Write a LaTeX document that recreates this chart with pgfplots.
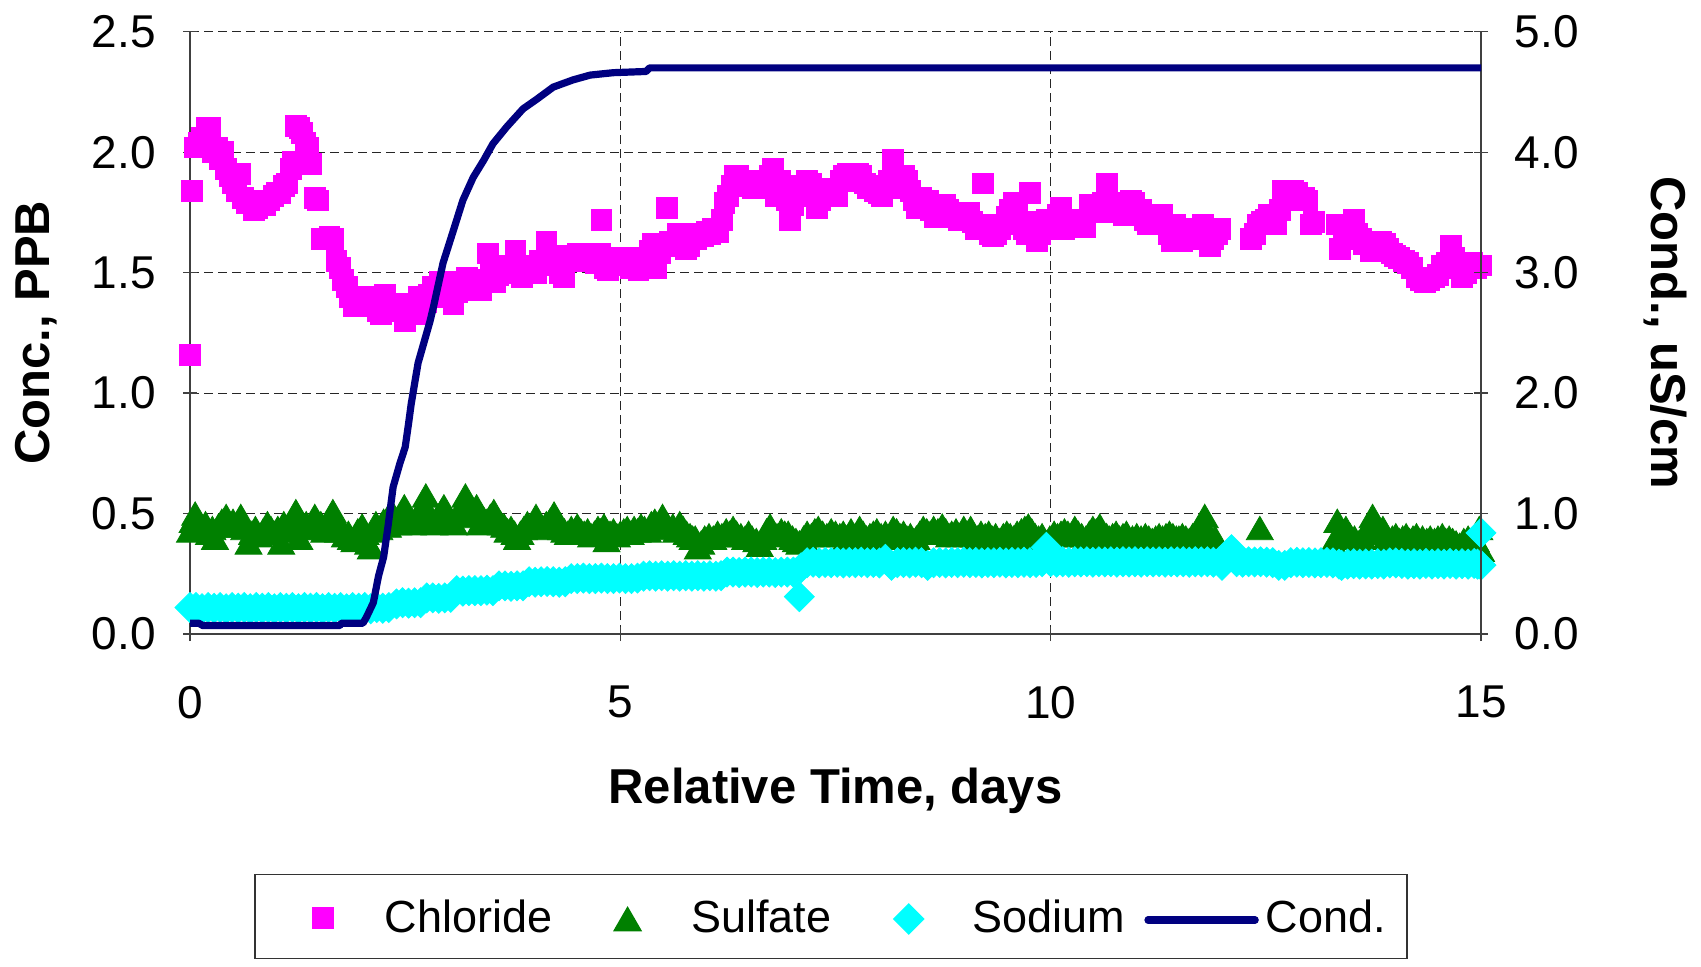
\documentclass[border=0pt]{standalone}
\usepackage{fontspec}
\setmainfont{Liberation Sans}
\usepackage{pgfplots}
\pgfplotsset{compat=1.18}
\definecolor{chl}{RGB}{255,0,255}
\definecolor{sul}{RGB}{0,128,0}
\definecolor{sod}{RGB}{0,255,255}
\definecolor{cnd}{RGB}{0,0,128}
\pgfplotsset{
  legchl/.style={legend image code/.code={\path (0pt,-19.05pt) (64.4pt,19.15pt);
    \draw[mark repeat=2,mark phase=2,##1] plot coordinates {(23.5pt,-0.7pt)(33.5pt,-0.7pt)(43.5pt,-0.7pt)};}},
  legmid/.style={legend image code/.code={\path (0pt,-19.05pt) (68.5pt,19.15pt);
    \draw[mark repeat=2,mark phase=2,##1] plot coordinates {(27pt,-1.2pt)(37pt,-1.2pt)(47pt,-1.2pt)};}},
  legline/.style={legend image code/.code={\path (0pt,-19.05pt) (66.7pt,19.15pt);
    \draw[##1] (9.5pt,-1.7pt) -- (63.1pt,-1.7pt);}},
}
\begin{document}
\begin{tikzpicture}
\path[use as bounding box] (0,0) rectangle (850.5pt,-483pt);
\pgfplotsset{
  base/.style={
    scale only axis, width=645.5pt, height=301.15pt,
    at={(95pt,-317pt)}, anchor=south west,
    xmin=0, xmax=15, clip=false,
    tick align=outside, major tick length=7pt,
    axis line style={-, black!75, line width=0.6pt},
    tick style={black!75, line width=0.6pt},
    ticklabel style={font=\fontsize{23}{27}\selectfont},
    /pgf/number format/assume math mode=true,
  },
}
\begin{axis}[base,
  axis x line=bottom, axis y line=left,
  x axis line style={-}, y axis line style={-},
  ymin=0, ymax=2.5,
  xtick={0,5,10,15},
  ytick={0,0.5,1,1.5,2,2.5},
  yticklabel style={xshift=-10pt, /pgf/number format/.cd, fixed, fixed zerofill, precision=1},
  xticklabel style={yshift=-19pt},
  grid=major,
  major grid style={black!85, line width=0.55pt, dash pattern=on 4.5pt off 2.5pt},
  xlabel={Relative Time, days},
  ylabel={Conc., PPB},
  every axis x label/.style={at={(axis description cs:0.5,-0.2806)}, anchor=base, font=\bfseries\fontsize{24.5}{29}\selectfont},
  every axis y label/.style={at={(axis description cs:-0.1193,0.5)}, anchor=center, rotate=90, font=\bfseries\fontsize{24.5}{29}\selectfont},
  legend columns=4,
  legend style={at={(0.4965,-0.469)}, anchor=center, inner sep=0pt, inner xsep=0pt, inner ysep=0pt,
    draw=black!80, line width=0.6pt,
    font=\fontsize{22.5}{27}\selectfont, column sep=0pt, row sep=0pt,
    nodes={inner sep=0pt, text depth=0pt}, cells={anchor=center}},
]
\addplot[only marks, mark=square*, mark size=5.2pt, color=chl, legchl]
coordinates {
(0.00,1.16)(0.02,1.84)(0.05,2.02)(0.10,2.04)(0.14,2.06)(0.19,2.10)(0.23,2.10)(0.27,2.00)(0.31,2.02)(0.35,1.97)
(0.38,2.00)(0.42,1.93)(0.46,1.90)(0.50,1.87)(0.54,1.84)(0.58,1.91)(0.61,1.81)(0.66,1.79)(0.70,1.80)(0.74,1.76)
(0.78,1.77)(0.82,1.80)(0.87,1.78)(0.92,1.80)(0.97,1.82)(1.01,1.83)(1.05,1.83)(1.09,1.86)(1.13,1.87)(1.17,1.93)
(1.20,1.96)(1.23,2.11)(1.27,2.10)(1.30,2.08)(1.34,2.04)(1.37,2.02)(1.41,1.95)(1.45,1.81)(1.49,1.80)(1.53,1.64)
(1.58,1.64)(1.62,1.65)(1.66,1.64)(1.70,1.55)(1.74,1.52)(1.78,1.47)(1.82,1.44)(1.86,1.40)(1.90,1.36)(1.94,1.37)
(1.98,1.36)(2.02,1.38)(2.06,1.40)(2.10,1.38)(2.14,1.37)(2.18,1.34)(2.22,1.33)(2.26,1.41)(2.30,1.34)(2.34,1.36)
(2.38,1.35)(2.42,1.36)(2.46,1.37)(2.50,1.30)(2.54,1.33)(2.58,1.35)(2.62,1.37)(2.66,1.40)(2.70,1.33)(2.74,1.38)
(2.78,1.41)(2.82,1.44)(2.86,1.42)(2.90,1.46)(2.94,1.44)(2.98,1.40)(3.02,1.46)(3.06,1.37)(3.10,1.42)(3.14,1.45)
(3.18,1.43)(3.22,1.48)(3.26,1.47)(3.30,1.44)(3.34,1.46)(3.38,1.43)(3.42,1.47)(3.46,1.58)(3.50,1.50)(3.54,1.46)
(3.58,1.49)(3.62,1.52)(3.66,1.50)(3.70,1.53)(3.74,1.52)(3.78,1.59)(3.82,1.51)(3.86,1.48)(3.90,1.52)(3.94,1.50)
(3.98,1.53)(4.02,1.50)(4.06,1.55)(4.10,1.54)(4.14,1.63)(4.18,1.57)(4.22,1.53)(4.26,1.55)(4.30,1.50)(4.34,1.48)
(4.38,1.55)(4.42,1.57)(4.46,1.56)(4.50,1.58)(4.55,1.55)(4.60,1.57)(4.64,1.58)(4.68,1.56)(4.72,1.54)(4.76,1.58)
(4.78,1.72)(4.82,1.52)(4.86,1.51)(4.90,1.54)(4.95,1.56)(5.00,1.55)(5.04,1.53)(5.08,1.56)(5.12,1.52)(5.16,1.55)
(5.21,1.51)(5.25,1.53)(5.30,1.56)(5.34,1.59)(5.38,1.62)(5.42,1.52)(5.46,1.58)(5.50,1.61)(5.54,1.77)(5.58,1.63)
(5.63,1.61)(5.67,1.66)(5.72,1.65)(5.76,1.60)(5.80,1.61)(5.84,1.66)(5.88,1.64)(5.92,1.66)(5.96,1.65)(6.00,1.67)
(6.04,1.66)(6.08,1.68)(6.13,1.67)(6.18,1.72)(6.21,1.79)(6.25,1.82)(6.29,1.86)(6.33,1.90)(6.37,1.90)(6.41,1.87)
(6.45,1.86)(6.50,1.88)(6.54,1.85)(6.58,1.86)(6.62,1.87)(6.66,1.88)(6.70,1.85)(6.74,1.90)(6.77,1.93)(6.81,1.82)
(6.85,1.88)(6.89,1.84)(6.93,1.80)(6.97,1.72)(7.01,1.78)(7.05,1.84)(7.09,1.86)(7.13,1.85)(7.17,1.88)(7.21,1.87)
(7.25,1.82)(7.28,1.77)(7.32,1.80)(7.36,1.83)(7.40,1.85)(7.44,1.84)(7.48,1.85)(7.52,1.82)(7.56,1.88)(7.60,1.90)
(7.64,1.91)(7.68,1.89)(7.72,1.88)(7.76,1.91)(7.80,1.90)(7.84,1.87)(7.88,1.85)(7.92,1.86)(7.96,1.84)(8.00,1.83)
(8.04,1.82)(8.08,1.85)(8.12,1.88)(8.17,1.97)(8.21,1.87)(8.25,1.85)(8.29,1.90)(8.33,1.88)(8.37,1.84)(8.41,1.80)
(8.45,1.77)(8.49,1.81)(8.53,1.79)(8.57,1.80)(8.61,1.76)(8.65,1.73)(8.69,1.77)(8.73,1.76)(8.77,1.78)(8.81,1.76)
(8.85,1.75)(8.89,1.73)(8.93,1.72)(8.97,1.74)(9.01,1.72)(9.05,1.75)(9.09,1.71)(9.13,1.68)(9.17,1.70)(9.21,1.87)
(9.25,1.70)(9.29,1.66)(9.33,1.65)(9.37,1.66)(9.41,1.68)(9.45,1.70)(9.49,1.73)(9.53,1.76)(9.57,1.79)(9.61,1.74)
(9.65,1.70)(9.69,1.68)(9.72,1.66)(9.76,1.83)(9.80,1.71)(9.84,1.63)(9.88,1.66)(9.92,1.68)(9.96,1.72)(10.00,1.70)
(10.04,1.69)(10.08,1.74)(10.12,1.77)(10.16,1.68)(10.20,1.70)(10.24,1.71)(10.28,1.72)(10.32,1.70)(10.36,1.72)(10.40,1.69)
(10.45,1.78)(10.49,1.78)(10.53,1.75)(10.57,1.76)(10.61,1.79)(10.65,1.87)(10.69,1.77)(10.73,1.75)(10.77,1.79)(10.81,1.76)
(10.85,1.74)(10.89,1.78)(10.93,1.80)(10.97,1.79)(11.01,1.75)(11.05,1.76)(11.09,1.72)(11.13,1.70)(11.17,1.70)(11.21,1.73)
(11.25,1.72)(11.29,1.74)(11.33,1.70)(11.37,1.66)(11.41,1.63)(11.45,1.70)(11.49,1.67)(11.53,1.63)(11.57,1.66)(11.61,1.67)
(11.65,1.64)(11.69,1.68)(11.73,1.66)(11.77,1.70)(11.81,1.67)(11.85,1.61)(11.89,1.64)(11.93,1.66)(11.97,1.68)
(12.33,1.64)(12.37,1.66)(12.41,1.70)(12.45,1.71)(12.50,1.72)(12.54,1.74)(12.58,1.71)(12.62,1.70)(12.66,1.76)(12.70,1.84)
(12.74,1.83)(12.78,1.82)(12.82,1.84)(12.86,1.83)(12.90,1.80)(12.94,1.81)(12.98,1.80)(13.02,1.70)(13.06,1.71)
(13.32,1.70)(13.36,1.60)(13.40,1.65)(13.44,1.68)(13.48,1.70)(13.52,1.72)(13.56,1.66)(13.60,1.64)(13.64,1.62)(13.68,1.63)
(13.72,1.59)(13.76,1.62)(13.80,1.61)(13.84,1.63)(13.88,1.62)(13.92,1.60)(13.96,1.58)(14.00,1.57)(14.05,1.56)(14.10,1.55)
(14.15,1.54)(14.20,1.52)(14.25,1.48)(14.30,1.47)(14.35,1.46)(14.40,1.47)(14.45,1.48)(14.50,1.49)(14.55,1.53)(14.60,1.54)
(14.65,1.61)(14.69,1.56)(14.73,1.52)(14.78,1.48)(14.82,1.50)(14.86,1.53)(14.90,1.54)(14.94,1.52)(14.98,1.53)(15.00,1.53)
};
\addlegendentry{\makebox[84pt][l]{\vphantom{Cdlf}Chloride}}
\addplot[only marks, mark=triangle*, mark size=7.8pt, color=sul, mark options={yshift=-1.95pt}, legmid]
coordinates {
(0.00,0.43)(0.03,0.47)(0.06,0.50)(0.10,0.47)(0.14,0.44)(0.18,0.46)(0.22,0.42)(0.26,0.44)(0.29,0.40)(0.33,0.45)
(0.37,0.47)(0.42,0.49)(0.46,0.45)(0.50,0.47)(0.55,0.46)(0.59,0.49)(0.63,0.44)(0.68,0.38)(0.72,0.42)(0.76,0.44)
(0.80,0.41)(0.85,0.43)(0.90,0.46)(0.94,0.44)(0.98,0.42)(1.02,0.44)(1.06,0.38)(1.09,0.46)(1.13,0.43)(1.17,0.45)
(1.20,0.47)(1.23,0.51)(1.27,0.40)(1.31,0.44)(1.35,0.46)(1.40,0.45)(1.45,0.49)(1.49,0.44)(1.52,0.46)(1.56,0.43)
(1.60,0.45)(1.63,0.47)(1.66,0.51)(1.72,0.43)(1.76,0.44)(1.80,0.41)(1.84,0.42)(1.87,0.40)(1.91,0.39)(1.95,0.43)
(2.00,0.45)(2.04,0.42)(2.07,0.38)(2.10,0.36)(2.13,0.43)(2.16,0.46)(2.20,0.44)(2.25,0.47)(2.30,0.45)(2.34,0.51)
(2.38,0.48)(2.42,0.46)(2.46,0.50)(2.49,0.53)(2.52,0.49)(2.55,0.47)(2.59,0.46)(2.62,0.48)(2.66,0.50)(2.70,0.52)
(2.74,0.575)(2.78,0.50)(2.81,0.48)(2.84,0.46)(2.88,0.49)(2.92,0.51)(2.95,0.53)(2.99,0.49)(3.03,0.47)(3.07,0.46)
(3.11,0.50)(3.16,0.52)(3.20,0.575)(3.24,0.50)(3.28,0.49)(3.33,0.53)(3.37,0.46)(3.41,0.48)(3.45,0.47)(3.49,0.49)
(3.53,0.51)(3.57,0.47)(3.61,0.46)(3.65,0.45)(3.69,0.43)(3.73,0.44)(3.77,0.42)(3.80,0.40)(3.84,0.42)(3.88,0.44)
(3.92,0.46)(3.96,0.45)(4.02,0.49)(4.06,0.45)(4.10,0.44)(4.14,0.46)(4.18,0.47)(4.23,0.50)(4.27,0.46)(4.31,0.44)
(4.35,0.43)(4.39,0.42)(4.43,0.44)(4.47,0.43)(4.50,0.45)(4.54,0.43)(4.58,0.42)(4.62,0.43)(4.66,0.41)(4.70,0.42)
(4.74,0.44)(4.77,0.43)(4.81,0.45)(4.84,0.39)(4.88,0.42)(4.92,0.43)(4.96,0.41)(5.00,0.42)(5.04,0.43)(5.08,0.44)
(5.12,0.42)(5.16,0.44)(5.20,0.43)(5.24,0.45)(5.28,0.44)(5.32,0.43)(5.36,0.46)(5.40,0.47)(5.45,0.45)(5.49,0.49)
(5.53,0.46)(5.57,0.44)(5.61,0.45)(5.65,0.43)(5.69,0.46)(5.73,0.44)(5.77,0.42)(5.81,0.41)(5.84,0.40)(5.87,0.40)
(5.90,0.36)(5.94,0.38)(5.98,0.40)(6.03,0.41)(6.08,0.40)(6.13,0.42)(6.18,0.41)(6.23,0.43)(6.27,0.42)(6.31,0.44)
(6.35,0.42)(6.40,0.41)(6.45,0.40)(6.49,0.42)(6.53,0.40)(6.58,0.39)(6.62,0.37)(6.66,0.40)(6.70,0.43)(6.74,0.45)
(6.78,0.42)(6.82,0.41)(6.87,0.43)(6.91,0.42)(6.95,0.42)(7.00,0.40)(7.04,0.39)(7.08,0.38)(7.13,0.40)(7.17,0.42)
(7.22,0.41)(7.26,0.43)(7.30,0.44)(7.35,0.42)(7.40,0.41)(7.45,0.43)(7.50,0.42)(7.55,0.41)(7.59,0.42)(7.63,0.40)
(7.68,0.43)(7.73,0.41)(7.78,0.44)(7.82,0.42)(7.86,0.40)(7.90,0.41)(7.94,0.42)(7.98,0.43)(8.03,0.41)(8.08,0.42)
(8.12,0.40)(8.17,0.44)(8.21,0.43)(8.25,0.41)(8.29,0.42)(8.33,0.40)(8.37,0.41)(8.41,0.39)(8.44,0.40)(8.48,0.42)
(8.52,0.44)(8.56,0.43)(8.60,0.42)(8.64,0.44)(8.69,0.43)(8.74,0.45)(8.78,0.43)(8.82,0.41)(8.85,0.42)(8.90,0.43)
(8.94,0.41)(8.99,0.44)(9.03,0.42)(9.07,0.44)(9.11,0.41)(9.15,0.40)(9.19,0.42)(9.24,0.41)(9.28,0.42)(9.32,0.40)
(9.36,0.41)(9.41,0.39)(9.45,0.41)(9.49,0.42)(9.53,0.41)(9.57,0.40)(9.61,0.42)(9.66,0.43)(9.70,0.44)(9.74,0.45)
(9.78,0.43)(9.82,0.41)(9.86,0.40)(9.90,0.41)(9.95,0.38)(9.99,0.40)(10.04,0.42)(10.08,0.41)(10.12,0.42)(10.16,0.43)
(10.20,0.42)(10.24,0.41)(10.28,0.44)(10.32,0.42)(10.36,0.41)(10.41,0.40)(10.45,0.42)(10.49,0.44)(10.53,0.43)(10.57,0.45)
(10.61,0.42)(10.65,0.41)(10.68,0.40)(10.72,0.41)(10.76,0.42)(10.80,0.40)(10.84,0.41)(10.88,0.42)(10.91,0.38)(10.95,0.40)
(11.00,0.41)(11.05,0.40)(11.10,0.41)(11.14,0.40)(11.18,0.39)(11.22,0.40)(11.26,0.41)(11.30,0.40)(11.34,0.41)(11.38,0.42)
(11.42,0.41)(11.46,0.40)(11.49,0.40)(11.53,0.41)(11.57,0.40)(11.61,0.39)(11.65,0.41)(11.69,0.42)(11.74,0.44)(11.79,0.49)
(11.83,0.42)(11.87,0.38)(11.91,0.40)(11.95,0.35)(12.43,0.44)
(13.28,0.38)(13.33,0.47)(13.38,0.43)(13.43,0.44)(13.48,0.41)(13.53,0.40)(13.58,0.38)(13.62,0.40)(13.66,0.42)(13.70,0.45)
(13.74,0.49)(13.78,0.45)(13.82,0.43)(13.86,0.44)(13.90,0.40)(13.93,0.38)(13.97,0.40)(14.01,0.41)(14.05,0.39)(14.09,0.40)
(14.13,0.41)(14.17,0.39)(14.21,0.40)(14.25,0.41)(14.28,0.39)(14.32,0.40)(14.37,0.39)(14.41,0.40)(14.46,0.39)(14.50,0.40)
(14.55,0.41)(14.59,0.39)(14.63,0.40)(14.67,0.39)(14.71,0.38)(14.75,0.37)(14.80,0.39)(14.85,0.40)(14.89,0.38)(14.94,0.39)
(14.98,0.44)(15.00,0.35)
};
\addlegendentry{\makebox[71.5pt][l]{\vphantom{Cdlf}Sulfate}}
\addplot[only marks, mark=square*, mark size=5.3pt, color=sod, mark options={rotate=45}, legmid]
coordinates {
(0.00,0.11)(0.07,0.11)(0.14,0.105)(0.21,0.11)(0.28,0.107)(0.35,0.11)(0.42,0.105)(0.49,0.11)(0.56,0.107)(0.63,0.11)
(0.70,0.105)(0.77,0.11)(0.84,0.107)(0.91,0.11)(0.98,0.105)(1.05,0.11)(1.12,0.107)(1.19,0.11)(1.26,0.105)(1.33,0.11)
(1.40,0.107)(1.47,0.11)(1.54,0.105)(1.61,0.11)(1.68,0.107)(1.75,0.11)(1.82,0.105)(1.89,0.11)(1.96,0.107)(2.03,0.11)
(2.10,0.105)(2.17,0.11)(2.24,0.107)(2.31,0.11)
(2.40,0.125)(2.47,0.13)(2.54,0.128)(2.61,0.13)(2.68,0.13)
(2.75,0.15)(2.82,0.15)(2.89,0.148)(2.96,0.15)(3.03,0.152)
(3.10,0.18)(3.17,0.178)(3.24,0.18)(3.31,0.18)(3.38,0.18)(3.45,0.182)(3.52,0.18)
(3.59,0.20)(3.66,0.20)(3.73,0.198)(3.80,0.20)(3.87,0.20)
(3.94,0.217)(4.01,0.215)(4.08,0.217)(4.15,0.218)(4.22,0.217)(4.29,0.215)(4.36,0.217)
(4.43,0.23)(4.50,0.23)(4.57,0.232)(4.64,0.23)(4.71,0.23)(4.78,0.232)(4.85,0.23)(4.92,0.23)(4.99,0.232)(5.06,0.23)(5.13,0.23)(5.20,0.232)
(5.27,0.24)(5.34,0.242)(5.41,0.24)(5.48,0.242)(5.55,0.24)(5.62,0.242)(5.69,0.24)(5.76,0.242)(5.83,0.24)(5.90,0.242)(5.97,0.24)(6.04,0.242)(6.11,0.24)(6.17,0.242)
(6.24,0.257)(6.31,0.257)(6.38,0.255)(6.45,0.257)(6.52,0.257)(6.59,0.255)(6.66,0.257)(6.73,0.257)(6.80,0.255)(6.87,0.257)(6.94,0.257)(7.01,0.257)
(7.08,0.155)(7.10,0.275)
(7.17,0.296)(7.24,0.298)(7.31,0.295)(7.38,0.297)(7.45,0.296)(7.52,0.298)(7.59,0.295)(7.66,0.297)(7.73,0.296)(7.80,0.298)
(7.87,0.296)(7.94,0.297)(8.01,0.295)(8.08,0.31)(8.15,0.285)(8.22,0.296)(8.29,0.297)(8.36,0.295)(8.43,0.298)(8.50,0.296)
(8.57,0.285)(8.64,0.296)(8.71,0.297)(8.78,0.295)(8.85,0.297)(8.92,0.296)(8.99,0.298)(9.06,0.296)(9.13,0.297)(9.20,0.295)
(9.27,0.297)(9.34,0.296)(9.41,0.298)(9.48,0.295)(9.55,0.297)(9.62,0.296)(9.69,0.298)(9.76,0.296)(9.83,0.297)(9.90,0.30)
(9.95,0.36)(10.00,0.30)(10.07,0.298)(10.14,0.300)(10.21,0.298)(10.28,0.300)(10.35,0.299)(10.42,0.300)(10.49,0.298)(10.56,0.300)
(10.63,0.299)(10.70,0.300)(10.77,0.298)(10.84,0.300)(10.91,0.299)(10.98,0.300)(11.05,0.298)(11.12,0.300)(11.19,0.299)(11.26,0.300)
(11.33,0.298)(11.40,0.300)(11.47,0.299)(11.54,0.300)(11.61,0.298)(11.68,0.300)(11.75,0.299)(11.82,0.300)(11.89,0.298)(11.96,0.300)
(11.99,0.285)(12.05,0.31)(12.10,0.35)(12.16,0.30)(12.23,0.298)(12.30,0.300)(12.37,0.299)(12.44,0.300)(12.51,0.298)(12.58,0.296)
(12.65,0.285)(12.72,0.285)(12.79,0.296)(12.86,0.298)(12.93,0.296)(13.00,0.297)(13.07,0.295)(13.14,0.296)(13.21,0.297)(13.28,0.295)
(13.35,0.29)(13.38,0.285)(13.45,0.29)(13.52,0.292)(13.59,0.29)(13.66,0.291)(13.73,0.29)(13.80,0.292)(13.87,0.29)(13.94,0.295)
(14.01,0.295)(14.08,0.293)(14.15,0.29)(14.22,0.292)(14.29,0.29)(14.36,0.293)(14.43,0.29)(14.50,0.292)(14.57,0.29)(14.64,0.293)
(14.71,0.29)(14.78,0.292)(14.85,0.29)(14.92,0.293)(14.96,0.29)(15.00,0.286)(15.00,0.42)
};
\addlegendentry{\makebox[76.5pt][l]{\vphantom{Cdlf}Sodium}}
\addlegendimage{cnd, line width=3.6pt, line cap=round, legline}
\addlegendentry{\makebox[70.5pt][l]{\vphantom{Cdlf}Cond.}}
\end{axis}
\begin{axis}[base,
  axis x line=none, axis y line=right,
  x axis line style={-}, y axis line style={-},
  ymin=0, ymax=5,
  ytick={0,1,2,3,4,5},
  yticklabel style={xshift=9.8pt, /pgf/number format/.cd, fixed, fixed zerofill, precision=1},
  ylabel={Cond., uS/cm},
  every axis y label/.style={at={(axis description cs:1.1425,0.5)}, anchor=center, rotate=-90, font=\bfseries\fontsize{24.5}{29}\selectfont},
]
\addplot[cnd, line width=3.6pt, line join=round, no marks] coordinates {
(0,0.09)(0.10,0.09)(0.15,0.07)(1.74,0.07)(1.76,0.09)(2.01,0.09)(2.05,0.14)(2.13,0.26)(2.19,0.48)(2.25,0.64)
(2.30,0.89)(2.36,1.22)(2.44,1.42)(2.50,1.55)(2.54,1.75)(2.57,1.91)(2.65,2.25)(2.71,2.40)(2.79,2.60)(2.83,2.72)
(2.94,3.08)(3.06,3.35)(3.17,3.60)(3.29,3.79)(3.41,3.93)(3.52,4.07)(3.68,4.21)(3.87,4.36)(4.03,4.44)(4.22,4.54)
(4.45,4.60)(4.65,4.64)(4.92,4.66)(5.30,4.67)(5.34,4.70)(15.0,4.70)
};
\end{axis}
\end{tikzpicture}
\end{document}
